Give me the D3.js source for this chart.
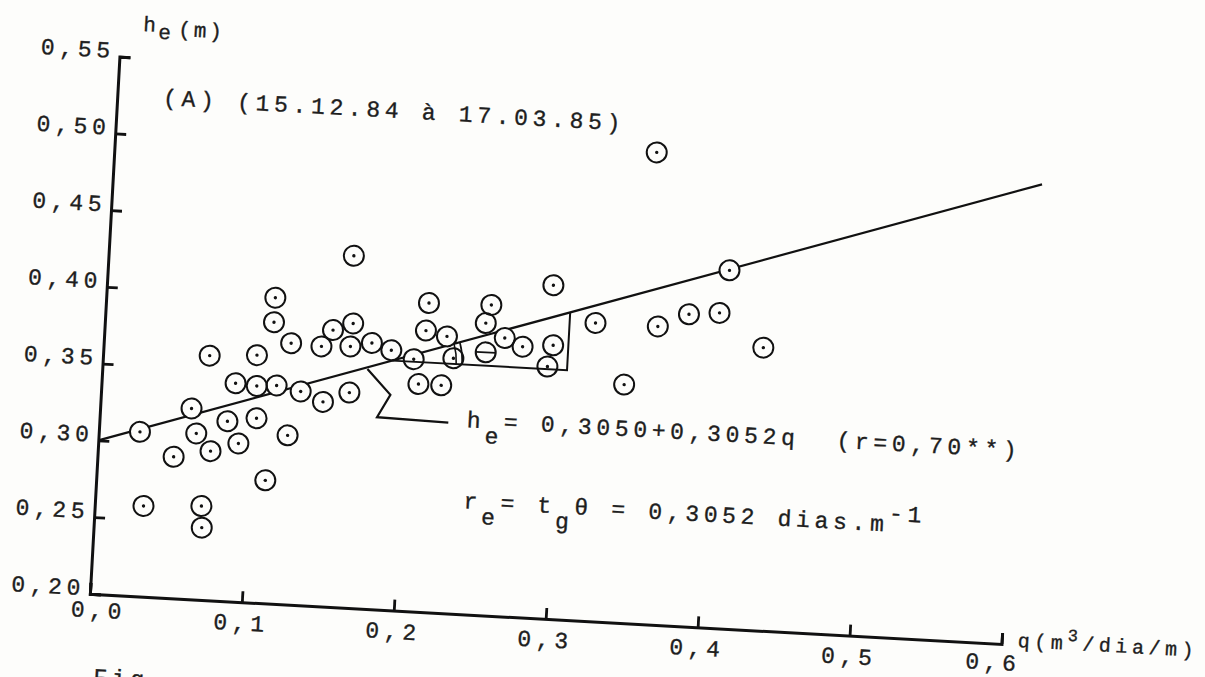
<!DOCTYPE html>
<html>
<head>
<meta charset="utf-8">
<script src="https://cdnjs.cloudflare.com/ajax/libs/d3/7.8.5/d3.min.js"></script>
<style>
  body { margin: 0; background: #fdfdfb; }
  svg { display: block; }
  text { font-family: "Liberation Mono", monospace; font-size: 23px; fill: #1e1e1e; stroke: #1e1e1e; stroke-width: 0.35px; letter-spacing: 4.7px; white-space: pre; }
</style>
</head>
<body>
<svg id="chart"></svg>
<script>
var qObs = [0.027, 0.032, 0.050, 0.060, 0.064, 0.070, 0.071, 0.070, 0.074, 0.084,
            0.088, 0.092, 0.101, 0.102, 0.103, 0.111, 0.111, 0.111, 0.115, 0.124,
            0.123, 0.131, 0.143, 0.146, 0.150, 0.162, 0.163, 0.163, 0.161, 0.176,
            0.189, 0.204, 0.208, 0.211, 0.212, 0.223, 0.225, 0.230, 0.250, 0.253,
            0.263, 0.275, 0.292, 0.293, 0.295, 0.322, 0.343, 0.356, 0.363, 0.383,
            0.403, 0.408, 0.433];
var heObs = [0.307, 0.259, 0.292, 0.324, 0.308, 0.261, 0.247, 0.359, 0.297, 0.317,
             0.342, 0.303, 0.361, 0.341, 0.320, 0.280, 0.399, 0.383, 0.342, 0.310,
             0.370, 0.339, 0.369, 0.333, 0.380, 0.370, 0.340, 0.385, 0.429, 0.373,
             0.369, 0.364, 0.348, 0.383, 0.401, 0.348, 0.380, 0.366, 0.390, 0.402,
             0.381, 0.376, 0.364, 0.417, 0.378, 0.394, 0.355, 0.507, 0.394, 0.403,
             0.405, 0.433, 0.384];
// the one point drawn with a bar instead of a dot
var qBarred = [0.251];
var heBarred = [0.371];

var xTicks = [0, 0.1, 0.2, 0.3, 0.4, 0.5, 0.6];
var yTicks = [0.20, 0.25, 0.30, 0.35, 0.40, 0.45, 0.50, 0.55];

// fitted line as drawn, and the slope triangle / leader
var fitQ = [0, 0.61];
var fitHe = [0.300, 0.500];
var triQ = [0.19, 0.305];
var leaderQ = [0.174, 0.190, 0.182, 0.229];
var leaderHe = [0.356, 0.340, 0.325, 0.324];

var W = 1205, H = 677;
var svg = d3.select("#chart").attr("width", W).attr("height", H);

// the scanned page is turned a little, so the whole figure is rotated
var g = svg.append("g").attr("transform", "translate(93,592) rotate(3.15)");

var x = d3.scaleLinear().domain([0, 0.6]).range([-3, 910]);
var y = d3.scaleLinear().domain([0.20, 0.55]).range([2, -536]);

var pt = d3.formatLocale({decimal: ",", thousands: ".", grouping: [3], currency: ["", ""]});

function fitAt(q) {
  return fitHe[0] + (q - fitQ[0]) * (fitHe[1] - fitHe[0]) / (fitQ[1] - fitQ[0]);
}

// axes
var yAxis = g.append("g").attr("transform", "translate(" + x(0) + ",0)")
  .call(d3.axisLeft(y).tickValues(yTicks).tickFormat(pt.format(".2f")).tickSize(-11).tickPadding(5));
yAxis.selectAll("text").attr("dy", "0.05em");

var xAxis = g.append("g").attr("transform", "translate(0," + y(0.20) + ")")
  .call(d3.axisBottom(x).tickValues(xTicks).tickFormat(pt.format(".1f")).tickSize(-11).tickPadding(12));
xAxis.selectAll(".tick").filter(function(d) { return d === 0; })
  .select("text").attr("dx", 9).attr("dy", "0.5em");
xAxis.selectAll(".tick").filter(function(d) { return d === 0.6; })
  .select("text").attr("dx", -8).attr("dy", "0.62em");

g.selectAll(".domain").attr("stroke", "#111").attr("stroke-width", 3);
g.selectAll(".tick line").attr("stroke", "#111").attr("stroke-width", 2.8);

// regression line (hidden under the circles)
g.append("path")
  .datum(fitQ)
  .attr("d", d3.line().x(function(d) { return x(d); }).y(function(d) { return y(fitAt(d)); }))
  .attr("fill", "none").attr("stroke", "#111").attr("stroke-width", 2.2);

var allQ = qObs.concat(qBarred), allHe = heObs.concat(heBarred);
g.selectAll("circle.mask")
  .data(d3.range(allQ.length))
  .enter().append("circle")
  .attr("class", "mask")
  .attr("cx", function(i) { return x(allQ[i]); })
  .attr("cy", function(i) { return y(allHe[i]); })
  .attr("r", 10)
  .attr("fill", "#fdfdfb");

// slope triangle
var baseHe = fitAt(triQ[0]);
g.append("path")
  .attr("d", d3.line()([[x(triQ[0]), y(baseHe)], [x(triQ[1]), y(baseHe)], [x(triQ[1]), y(fitAt(triQ[1]))]]))
  .attr("fill", "none").attr("stroke", "#111").attr("stroke-width", 2);

var vx = x(triQ[0]), vy = y(baseHe);
var ang = Math.atan2(y(fitAt(triQ[1])) - vy, x(triQ[1]) - vx);
[64, 70].forEach(function(r) {
  var p = d3.path();
  p.arc(vx, vy, r, 0, ang, true);
  g.append("path").attr("d", p.toString()).attr("fill", "none").attr("stroke", "#111").attr("stroke-width", 1.6);
});

// leader from the equation to the line
g.append("path")
  .datum(d3.range(leaderQ.length))
  .attr("d", d3.line().x(function(i) { return x(leaderQ[i]); }).y(function(i) { return y(leaderHe[i]); }))
  .attr("fill", "none").attr("stroke", "#111").attr("stroke-width", 2.2);

// observation markers
g.selectAll("circle.obs")
  .data(d3.range(allQ.length))
  .enter().append("circle")
  .attr("class", "obs")
  .attr("cx", function(i) { return x(allQ[i]); })
  .attr("cy", function(i) { return y(allHe[i]); })
  .attr("r", 10)
  .attr("fill", "none").attr("stroke", "#111").attr("stroke-width", 2);

g.selectAll("circle.dot")
  .data(d3.range(qObs.length))
  .enter().append("circle")
  .attr("class", "dot")
  .attr("cx", function(i) { return x(qObs[i]); })
  .attr("cy", function(i) { return y(heObs[i]); })
  .attr("r", 1.7)
  .attr("fill", "#111");

g.selectAll("line.bar")
  .data(d3.range(qBarred.length))
  .enter().append("line")
  .attr("x1", function(i) { return x(qBarred[i]) - 10; })
  .attr("x2", function(i) { return x(qBarred[i]) + 10; })
  .attr("y1", function(i) { return y(heBarred[i]); })
  .attr("y2", function(i) { return y(heBarred[i]); })
  .attr("stroke", "#111").attr("stroke-width", 1.8);

// axis titles
var yt = g.append("text").attr("x", 19).attr("y", -563).style("font-size", "21px").style("letter-spacing", "3px");
yt.append("tspan").text("h");
yt.append("tspan").attr("dy", 7).text("e");
yt.append("tspan").attr("dy", -4).attr("dx", 4).text("(m)");

var xt = g.append("text").attr("x", 926).attr("y", 4).style("font-size", "20px").style("letter-spacing", "4.6px");
xt.append("tspan").text("q(m");
xt.append("tspan").attr("dy", -9).style("font-size", "17px").text("3");
xt.append("tspan").attr("dy", 9).text("/dia/m)");

// period
g.append("text").attr("x", 43).attr("y", -490).text("(A) (15.12.84 à 17.03.85)");

// equations
var eq1 = g.append("text").attr("x", 364).attr("y", -185);
eq1.append("tspan").text("h");
eq1.append("tspan").attr("dy", 15).text("e");
eq1.append("tspan").attr("dy", -15).text("= 0,3050+0,3052q  (r=0,70**)");

var eq2 = g.append("text").attr("x", 365).attr("y", -104);
eq2.append("tspan").text("r");
eq2.append("tspan").attr("dy", 15).text("e");
eq2.append("tspan").attr("dy", -15).text("= t");
eq2.append("tspan").attr("dy", 15).text("g");
eq2.append("tspan").attr("dy", -15).text("θ = 0,3052 dias.m");
eq2.append("tspan").attr("dy", -11).text("-1");

// caption, cut off by the page edge
g.append("text").attr("x", 5).attr("y", 92).text("Fig.");
</script>
</body>
</html>
